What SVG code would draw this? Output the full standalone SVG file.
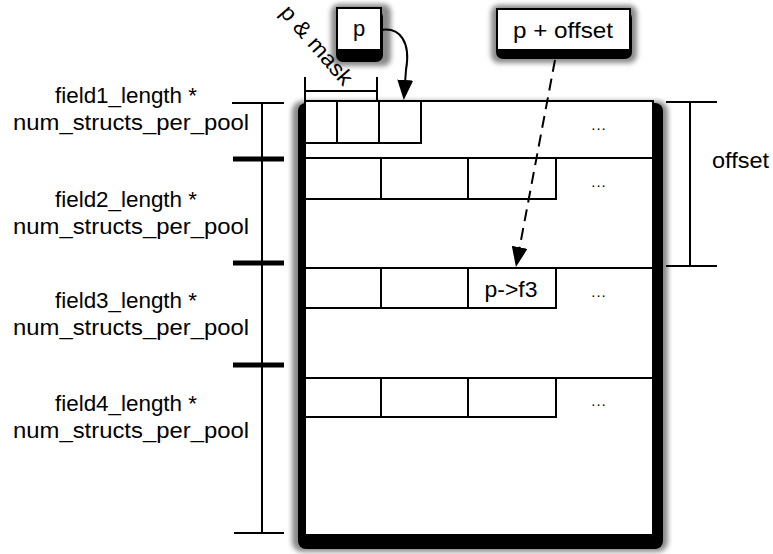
<svg xmlns="http://www.w3.org/2000/svg" width="773" height="554" viewBox="0 0 773 554">
<style>
text{font-family:"Liberation Sans",Arial,Helvetica,sans-serif;font-size:22px;fill:#000}
.lbl{text-anchor:middle}
.dots{font-size:15px;text-anchor:middle;letter-spacing:1px}
.ln{stroke:#000;stroke-width:2;fill:none}
.tk{stroke:#000;stroke-width:5;fill:none}
.cell{fill:#fff;stroke:#000;stroke-width:2}
.halo{fill:#8a8a8a}
</style>
<defs>
<filter id="blur" x="-20%" y="-20%" width="140%" height="140%"><feGaussianBlur stdDeviation="2.5"/></filter>
<marker id="ah" markerUnits="userSpaceOnUse" markerWidth="20" markerHeight="16" refX="17" refY="8" orient="auto"><path d="M0,0 L20,8 L0,16 z" fill="#000"/></marker>
</defs>
<rect width="773" height="554" fill="#fff"/>

<g id="pool">
<rect class="halo" x="292" y="101" width="376" height="451" rx="10" filter="url(#blur)"/>
<rect x="298" y="103" width="365" height="446" rx="8" fill="#000"/>
<rect x="305" y="101" width="348" height="434" fill="#fff" stroke="#000" stroke-width="2"/>
<g id="row1">
<rect class="cell" x="305" y="101" width="116" height="42"/>
<line class="ln" x1="337" y1="101" x2="337" y2="143"/>
<line class="ln" x1="379" y1="101" x2="379" y2="143"/>
<text class="dots" x="599" y="130">...</text>
</g>
<g id="row2">
<line class="ln" x1="305" y1="158" x2="653" y2="158"/>
<rect class="cell" x="305" y="158" width="251" height="41"/>
<line class="ln" x1="381" y1="158" x2="381" y2="199"/>
<line class="ln" x1="468" y1="158" x2="468" y2="199"/>
<text class="dots" x="599" y="187">...</text>
</g>
<g id="row3">
<line class="ln" x1="305" y1="268" x2="653" y2="268"/>
<rect class="cell" x="305" y="268" width="251" height="40"/>
<line class="ln" x1="381" y1="268" x2="381" y2="308"/>
<line class="ln" x1="468" y1="268" x2="468" y2="308"/>
<text x="511" y="297" class="lbl" textLength="53" lengthAdjust="spacingAndGlyphs">p-&gt;f3</text>
<text class="dots" x="599" y="297">...</text>
</g>
<g id="row4">
<line class="ln" x1="305" y1="378" x2="653" y2="378"/>
<rect class="cell" x="305" y="378" width="251" height="39"/>
<line class="ln" x1="381" y1="378" x2="381" y2="417"/>
<line class="ln" x1="468" y1="378" x2="468" y2="417"/>
<text class="dots" x="599" y="406">...</text>
</g>
</g>

<g id="box-p">
<rect class="halo" x="331" y="4" width="60" height="62" rx="8" filter="url(#blur)"/>
<rect x="336" y="10" width="47" height="52" rx="7" fill="#000"/>
<rect x="337" y="8" width="44" height="42" fill="#fff" stroke="#000" stroke-width="2"/>
<text x="359" y="36" class="lbl">p</text>
</g>

<g id="box-offset">
<rect class="halo" x="491" y="5" width="146" height="58" rx="8" filter="url(#blur)"/>
<rect x="496" y="11" width="136" height="48" rx="7" fill="#000"/>
<rect x="497" y="9" width="133" height="41" fill="#fff" stroke="#000" stroke-width="2"/>
<text x="563" y="38" class="lbl" textLength="100" lengthAdjust="spacingAndGlyphs">p + offset</text>
</g>

<g id="labels">
<text x="126" y="103" class="lbl" textLength="142" lengthAdjust="spacingAndGlyphs">field1_length *</text>
<text x="131" y="130" class="lbl" textLength="236" lengthAdjust="spacingAndGlyphs">num_structs_per_pool</text>
<text x="126" y="207" class="lbl" textLength="142" lengthAdjust="spacingAndGlyphs">field2_length *</text>
<text x="131" y="234" class="lbl" textLength="236" lengthAdjust="spacingAndGlyphs">num_structs_per_pool</text>
<text x="126" y="308" class="lbl" textLength="142" lengthAdjust="spacingAndGlyphs">field3_length *</text>
<text x="131" y="335" class="lbl" textLength="236" lengthAdjust="spacingAndGlyphs">num_structs_per_pool</text>
<text x="126" y="411" class="lbl" textLength="142" lengthAdjust="spacingAndGlyphs">field4_length *</text>
<text x="131" y="438" class="lbl" textLength="236" lengthAdjust="spacingAndGlyphs">num_structs_per_pool</text>
<text x="712" y="168" textLength="57" lengthAdjust="spacingAndGlyphs">offset</text>
<text x="0" y="0" transform="translate(279,13) rotate(49)" textLength="98" lengthAdjust="spacingAndGlyphs">p &amp; mask</text>
</g>

<g id="connectors">
<g id="dim-left">
<line class="ln" x1="262" y1="103" x2="262" y2="533"/>
<line class="ln" x1="232" y1="103" x2="284" y2="103"/>
<line class="tk" x1="233" y1="159" x2="284" y2="159"/>
<line class="tk" x1="233" y1="263" x2="284" y2="263"/>
<line class="tk" x1="233" y1="365" x2="284" y2="365"/>
<line class="ln" x1="234" y1="533" x2="284" y2="533"/>
</g>
<g id="dim-offset">
<line class="ln" x1="690" y1="102" x2="690" y2="266"/>
<line class="ln" x1="666" y1="102" x2="717" y2="102"/>
<line class="ln" x1="666" y1="266" x2="717" y2="266"/>
</g>
<g id="dim-mask">
<line class="ln" x1="305" y1="91" x2="377" y2="91"/>
<line class="ln" x1="305" y1="77" x2="305" y2="101"/>
<line class="ln" x1="377" y1="77" x2="377" y2="101"/>
</g>
<path class="ln" d="M381,30 C400,27 411,42 406,70 L404,97" stroke-width="2.2" marker-end="url(#ah)"/>
<path class="ln" d="M555,60 L516.5,264" stroke-width="2.5" stroke-dasharray="12,7" marker-end="url(#ah)"/>
</g>
</svg>
